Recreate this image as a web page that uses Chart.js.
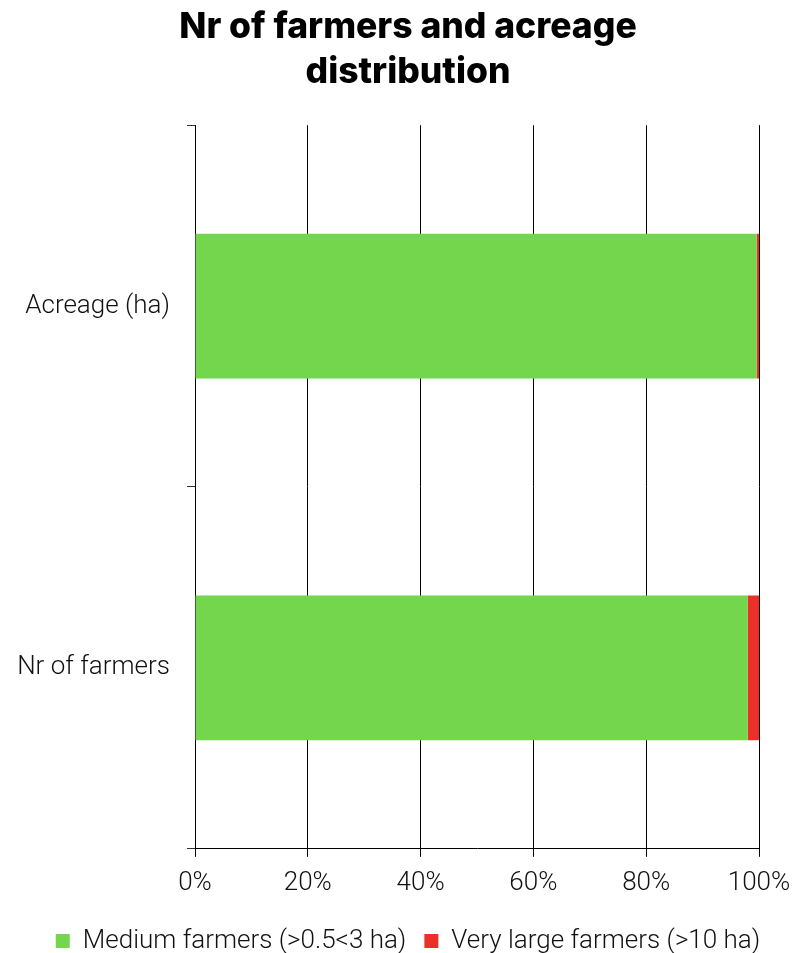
<!DOCTYPE html>
<html>
<head>
<meta charset="utf-8">
<script src="https://cdn.jsdelivr.net/npm/chart.js@4"></script>
<style>
    html, body { margin: 0; padding: 0; background: #fff; }
    #wrap { width: 794px; height: 953px; }
</style>
</head>
<body>
<div id="wrap"><canvas id="farm-bars"></canvas></div>
<script>
// shares per category, in percent
const categories = ['Acreage (ha)', 'Nr of farmers'];
const mediumFarmers = [99.6, 98.0];
const veryLargeFarmers = [0.4, 2.0];
const seriesNames = ['Medium farmers (>0.5<3 ha)', 'Very large farmers (>10 ha)'];

const font = 'Roboto';

new Chart(document.getElementById('farm-bars'), {
    type: 'bar',
    data: {
        labels: categories,
        datasets: [
            {
                label: seriesNames[0],
                data: mediumFarmers,
                backgroundColor: 'rgb(116, 214, 76)',
                barPercentage: 0.4,
                categoryPercentage: 1
            },
            {
                label: seriesNames[1],
                data: veryLargeFarmers,
                backgroundColor: 'rgb(235, 48, 42)',
                barPercentage: 0.4,
                categoryPercentage: 1
            }
        ]
    },
    options: {
        indexAxis: 'y',
        responsive: true,
        maintainAspectRatio: false,
        animation: false,
        // title and legend sit a little right of the page centre
        layout: { padding: { left: 10, right: -12, top: 5, bottom: -11 } },
        plugins: {
            title: {
                display: true,
                text: ['Nr of farmers and acreage', 'distribution'],
                color: '#000',
                font: { family: 'Inter', size: 35.5, weight: '800', lineHeight: 1.27 },
                padding: { top: 0, bottom: 30 }
            },
            legend: {
                position: 'bottom',
                labels: {
                    color: '#111',
                    font: { family: font, size: 26, weight: '300' },
                    boxWidth: 14,
                    boxHeight: 14,
                    padding: 18
                }
            },
            tooltip: { enabled: false }
        },
        scales: {
            x: {
                stacked: true,
                min: 0,
                max: 100,
                ticks: {
                    stepSize: 20,
                    color: '#111',
                    font: { family: font, size: 26, weight: '300' },
                    padding: 11,
                    callback: v => v + '%'
                },
                grid: { color: '#000', lineWidth: 1, tickLength: 8 },
                border: { color: '#000', width: 1 },
                afterFit: scale => { scale.paddingRight = 35; }
            },
            y: {
                stacked: true,
                ticks: {
                    color: '#111',
                    font: { family: font, size: 26, weight: '300' },
                    padding: 17
                },
                grid: { drawOnChartArea: false, color: '#333', tickLength: 8, offset: true },
                border: { color: '#000', width: 1 },
                afterFit: scale => { scale.width = 195 - 10; }
            }
        }
    }
});
</script>
</body>
</html>
